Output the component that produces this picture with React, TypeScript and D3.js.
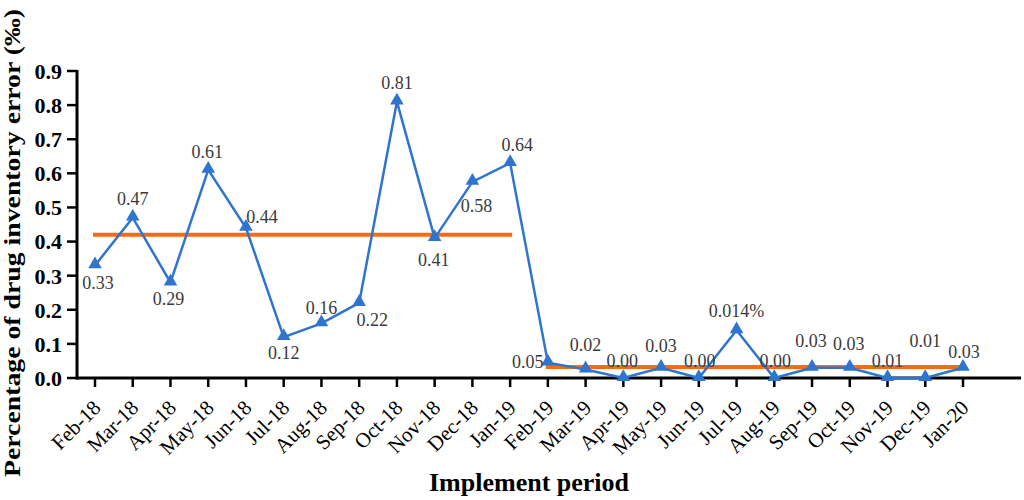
import React from 'react';
import * as d3 from 'd3';

const months = [
	'Feb-18', 'Mar-18', 'Apr-18', 'May-18', 'Jun-18', 'Jul-18', 'Aug-18', 'Sep-18',
	'Oct-18', 'Nov-18', 'Dec-18', 'Jan-19', 'Feb-19', 'Mar-19', 'Apr-19', 'May-19',
	'Jun-19', 'Jul-19', 'Aug-19', 'Sep-19', 'Oct-19', 'Nov-19', 'Dec-19', 'Jan-20'
];

// plotted error rate
const errorRate = [
	0.33, 0.47, 0.28, 0.61, 0.44, 0.12, 0.16, 0.22, 0.81, 0.41, 0.575, 0.63,
	0.045, 0.025, 0.0, 0.03, 0.0, 0.14, 0.0, 0.03, 0.03, 0.0, 0.0, 0.03
];

// text written beside each point
const pointLabels = [
	'0.33', '0.47', '0.29', '0.61', '0.44', '0.12', '0.16', '0.22', '0.81', '0.41', '0.58', '0.64',
	'0.05', '0.02', '0.00', '0.03', '0.00', '0.014%', '0.00', '0.03', '0.03', '0.01', '0.01', '0.03'
];

// mean level of each period: [first month, last month, value]
const meanLines: [string, string, number][] = [
	['Feb-18', 'Jan-19', 0.42],
	['Feb-19', 'Jan-20', 0.032]
];

const yTicks = [0, 0.1, 0.2, 0.3, 0.4, 0.5, 0.6, 0.7, 0.8, 0.9];

// label offset from its point, [dx, dy] in px (baseline-centred text)
const labelOffsets: [number, number][] = [
	[3, 24], [0, -13], [-2, 23], [-1, -12], [16, -5], [0, 22], [0, -9], [13, 23],
	[0, -13], [-1, 28], [4, 30], [7, -12], [-20, 5], [0, -18], [-1, -11], [0, -16],
	[1, -11], [0, -13], [1, -11], [-1, -21], [-1, -18], [0, -11], [0, -31], [1, -10]
];

const W = 1024;
const H = 500;
const serif = "'Liberation Serif', 'Times New Roman', serif";

export default function App() {
	const x = d3.scalePoint<string>().domain(months).range([95, 963]);
	const y = d3.scaleLinear().domain([0, 0.9]).range([378, 71]);

	const line = d3.line<number>()
		.x((d, i) => x(months[i]) as number)
		.y(d => y(d));

	const tri = d3.symbol().type(d3.symbolTriangle).size(80)() as string;

	return (
		<svg width={W} height={H} style={{ position: 'absolute', left: 0, top: 0, background: '#fff' }}>
			{/* y axis */}
			<line x1={77} x2={77} y1={y(0.9) - 1} y2={y(0) + 1.5} stroke="#000" strokeWidth={3} />
			{yTicks.map(t => (
				<g key={t}>
					<line x1={67} x2={77} y1={y(t)} y2={y(t)} stroke="#000" strokeWidth={2.5} />
					<text x={62} y={y(t)} dy="0.36em" textAnchor="end"
						style={{ font: `bold 22px ${serif}`, fill: '#000' }}>{t.toFixed(1)}</text>
				</g>
			))}
			{/* x axis */}
			<line x1={76} x2={1021} y1={y(0)} y2={y(0)} stroke="#000" strokeWidth={3} />
			{months.map(m => {
				const px = x(m) as number;
				return (
					<g key={m}>
						<line x1={px} x2={px} y1={y(0)} y2={y(0) + 9} stroke="#000" strokeWidth={2.5} />
						<text transform={`translate(${px + 7},${y(0) + 31}) rotate(-45)`} textAnchor="end"
							style={{ font: `21px ${serif}`, fill: '#000' }}>{m}</text>
					</g>
				);
			})}

			{/* mean lines */}
			{meanLines.map(([a, b, v]) => (
				<line key={a} x1={(x(a) as number) - 2} x2={(x(b) as number) + 2} y1={y(v)} y2={y(v)}
					stroke="#fb6a10" strokeWidth={4} />
			))}

			{/* series */}
			<path d={line(errorRate) as string} fill="none" stroke="#2f74cf" strokeWidth={2.5} />
			{errorRate.map((v, i) => (
				<path key={i} d={tri} transform={`translate(${x(months[i])},${y(v) - 1})`} fill="#2f74cf" />
			))}

			{/* point labels */}
			{errorRate.map((v, i) => (
				<text key={i} x={(x(months[i]) as number) + labelOffsets[i][0]} y={y(v) + labelOffsets[i][1]}
					textAnchor="middle" style={{ font: `18px ${serif}`, fill: '#3a3a3a' }}>{pointLabels[i]}</text>
			))}

			{/* titles */}
			<text transform="translate(20,243) rotate(-90)" textAnchor="middle" textLength={468}
				lengthAdjust="spacingAndGlyphs"
				style={{ font: `bold 24px ${serif}`, fill: '#000' }}>Percentage of drug inventory error (‰)</text>
			<text x={529} y={491} textAnchor="middle"
				style={{ font: `bold 26px ${serif}`, fill: '#000' }}>Implement period</text>
		</svg>
	);
}
